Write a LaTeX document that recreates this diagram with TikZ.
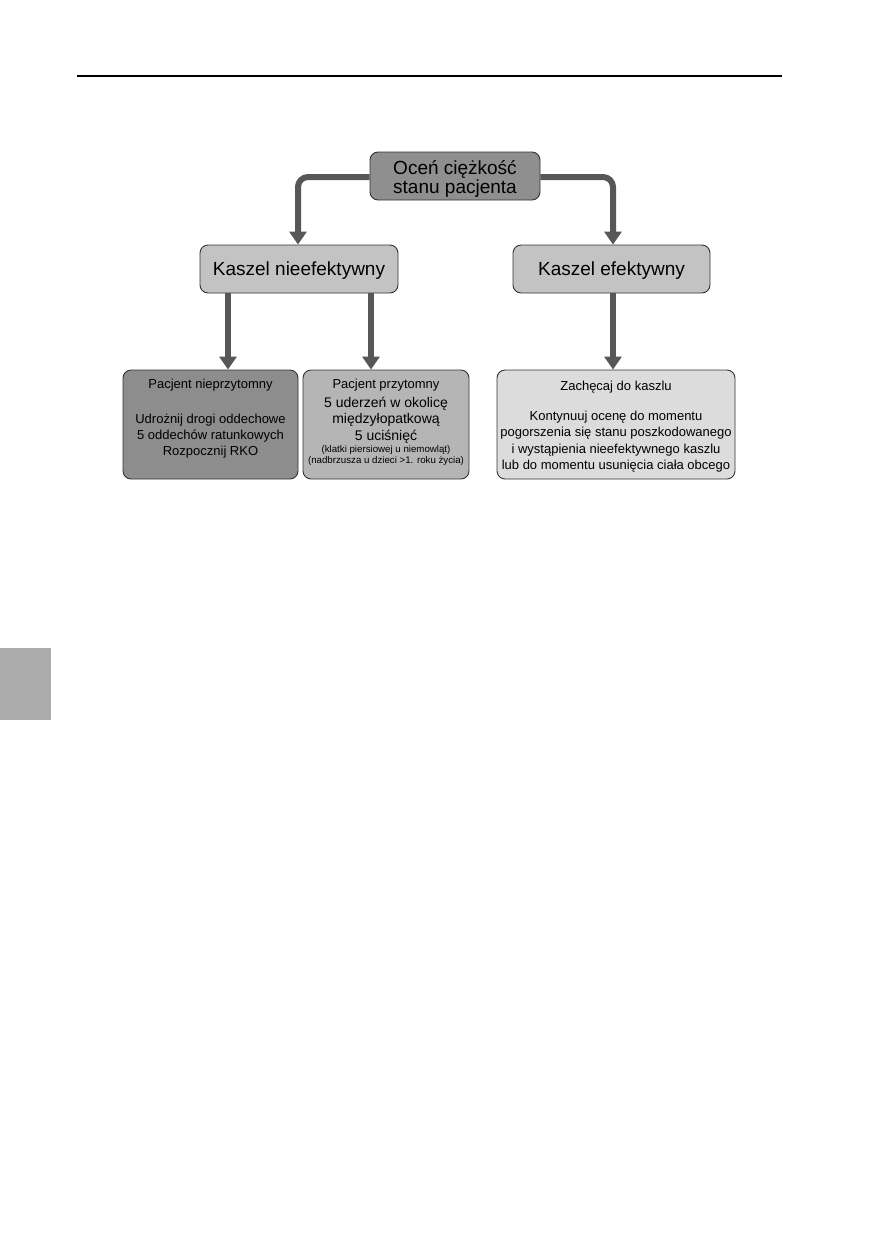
\documentclass[tikz,border=0pt]{standalone}
\usepackage{fontspec}
\setmainfont{Liberation Sans}
\usetikzlibrary{arrows.meta}
\definecolor{arrgray}{HTML}{575757}
\definecolor{bordergray}{HTML}{333333}
\definecolor{topfill}{HTML}{8F8F8F}
\definecolor{midfill}{HTML}{C3C3C3}
\definecolor{darkfill}{HTML}{8D8D8D}
\definecolor{ppfill}{HTML}{B5B5B5}
\definecolor{lightfill}{HTML}{DCDCDC}
\definecolor{tabgray}{HTML}{ACACAC}
\begin{document}
\begin{tikzpicture}[x=1pt,y=-1pt,
  box/.style={draw=bordergray, line width=0.9pt, rounded corners=8pt, inner sep=0pt},
  arr/.style={draw=arrgray, line width=6pt, rounded corners=10pt,
    -{Triangle[width=17pt,length=13pt]}},
  txt/.style={inner sep=0pt, anchor=base},
  big/.style={font=\fontsize{19}{19}\selectfont},
  small/.style={font=\fontsize{13}{16}\selectfont},
  mid/.style={font=\fontsize{14}{17}\selectfont},
  tiny/.style={font=\fontsize{9.7}{11}\selectfont}]
\useasboundingbox (0,0) rectangle (872,1254);
% page decorations
\draw[line width=1.3pt] (77,76) coordinate (hl) -- (782,76) coordinate (hr);
\fill[tabgray] (0,648) rectangle (51,720);
% boxes
\node[box, fill=topfill, minimum width=170pt, minimum height=48pt] (top) at (455,176) {};
\node[box, fill=midfill, minimum width=198pt, minimum height=48pt] (kn) at (299,269) {};
\node[box, fill=midfill, minimum width=197pt, minimum height=48pt] (ke) at (611.5,269) {};
\node[box, fill=darkfill, minimum width=175pt, minimum height=109pt] (pn) at (210.5,424.5) {};
\node[box, fill=ppfill, minimum width=166pt, minimum height=109pt] (pp) at (386,424.5) {};
\node[box, fill=lightfill, minimum width=238pt, minimum height=109pt] (za) at (616,424.5) {};
% texts
\node[txt, big] (top1) at (455,174) {Oceń ciężkość};
\node[txt, big] (top2) at (455,193) {stanu pacjenta};
\node[txt, big] (kn1) at (299,275.5) {Kaszel nieefektywny};
\node[txt, big] (ke1) at (611.5,275.5) {Kaszel efektywny};
\node[txt, small] (pn1) at (210.5,388) {Pacjent nieprzytomny};
\node[txt, small] (pn2) at (210.5,423) {Udrożnij drogi oddechowe};
\node[txt, small] (pn3) at (210.5,439) {5 oddechów ratunkowych};
\node[txt, small] (pn4) at (210.5,455) {Rozpocznij RKO};
\node[txt, small] (pp1) at (386,388) {Pacjent przytomny};
\node[txt, mid] (pp2) at (386,407.5) {5 uderzeń w okolicę};
\node[txt, mid] (pp3) at (386,423) {międzyłopatkową};
\node[txt, mid] (pp4) at (386,440.5) {5 uciśnięć};
\node[txt, tiny] (pp5) at (386,452) {(klatki piersiowej u niemowląt)};
\node[txt, tiny] (pp6) at (386,463) {(nadbrzusza u dzieci >1. roku życia)};
\node[txt, small] (za1) at (616,390) {Zachęcaj do kaszlu};
\node[txt, small] (za2) at (616,420) {Kontynuuj ocenę do momentu};
\node[txt, small] (za3) at (616,436) {pogorszenia się stanu poszkodowanego};
\node[txt, small] (za4) at (616,453) {i wystąpienia nieefektywnego kaszlu};
\node[txt, small] (za5) at (616,469) {lub do momentu usunięcia ciała obcego};
% connectors
\coordinate (xa) at (228,0);
\coordinate (xb) at (371,0);
\coordinate (xc) at (613,0);
\coordinate (xd) at (298,0);
\coordinate (ya) at (0,177);
\draw[arr] (top.west |- ya) -| (kn.north -| xd);
\draw[arr] (top.east |- ya) -| (ke.north -| xc);
\draw[arr] (kn.south -| xa) -- (pn.north -| xa);
\draw[arr] (kn.south -| xb) -- (pp.north -| xb);
\draw[arr] (ke.south -| xc) -- (za.north -| xc);
\end{tikzpicture}
\end{document}
